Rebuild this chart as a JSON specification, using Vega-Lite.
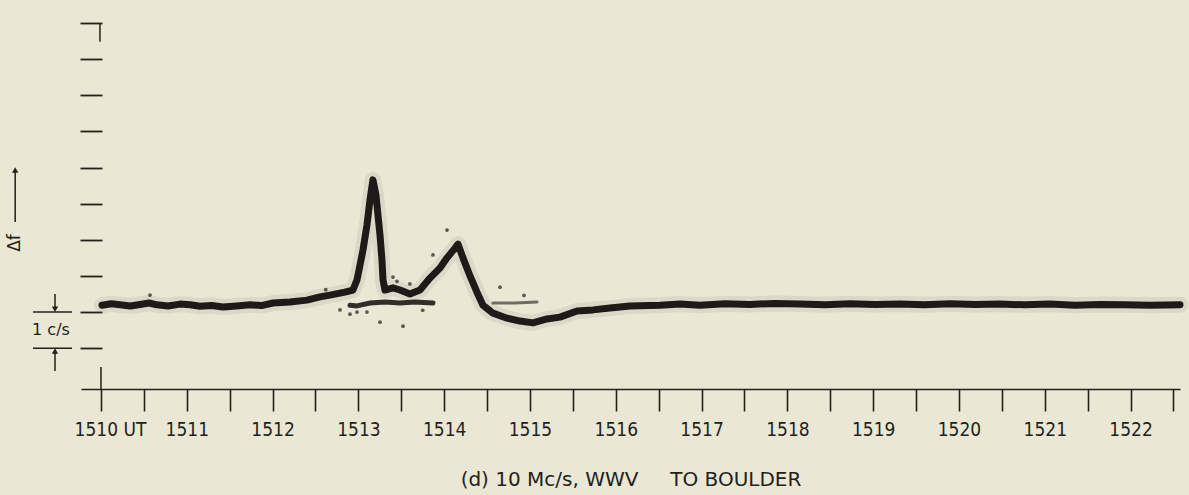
{
  "$schema": "https://vega.github.io/schema/vega-lite/v6.json",
  "width": 1099,
  "height": 384,
  "autosize": {"type": "none"},
  "padding": {"left": 81, "top": 5, "right": 9, "bottom": 106},
  "background": "#ebe7d5",
  "config": {"view": {"stroke": null}},
  "datasets": {
    "trace": [
      {"t": 0.012, "v": 0.19, "part": "main"}, {"t": 0.12, "v": 0.23, "part": "main"}, {"t": 0.221, "v": 0.2, "part": "main"},
      {"t": 0.34, "v": 0.17, "part": "main"}, {"t": 0.455, "v": 0.21, "part": "main"}, {"t": 0.56, "v": 0.25, "part": "main"},
      {"t": 0.653, "v": 0.2, "part": "main"}, {"t": 0.78, "v": 0.17, "part": "main"}, {"t": 0.921, "v": 0.22, "part": "main"},
      {"t": 1.04, "v": 0.2, "part": "main"}, {"t": 1.154, "v": 0.16, "part": "main"}, {"t": 1.29, "v": 0.18, "part": "main"},
      {"t": 1.422, "v": 0.14, "part": "main"}, {"t": 1.58, "v": 0.17, "part": "main"}, {"t": 1.737, "v": 0.2, "part": "main"},
      {"t": 1.87, "v": 0.18, "part": "main"}, {"t": 2.005, "v": 0.25, "part": "main"}, {"t": 2.203, "v": 0.28, "part": "main"},
      {"t": 2.401, "v": 0.33, "part": "main"}, {"t": 2.552, "v": 0.42, "part": "main"}, {"t": 2.669, "v": 0.47, "part": "main"},
      {"t": 2.844, "v": 0.55, "part": "main"}, {"t": 2.937, "v": 0.61, "part": "main"}, {"t": 2.984, "v": 0.89, "part": "main"},
      {"t": 3.019, "v": 1.3, "part": "main"}, {"t": 3.054, "v": 1.72, "part": "main"}, {"t": 3.1, "v": 2.41, "part": "main"},
      {"t": 3.135, "v": 3.1, "part": "main"}, {"t": 3.17, "v": 3.66, "part": "main"}, {"t": 3.205, "v": 3.24, "part": "main"},
      {"t": 3.228, "v": 2.69, "part": "main"}, {"t": 3.252, "v": 2.13, "part": "main"}, {"t": 3.275, "v": 1.44, "part": "main"},
      {"t": 3.287, "v": 0.89, "part": "main"}, {"t": 3.31, "v": 0.61, "part": "main"}, {"t": 3.403, "v": 0.67, "part": "main"},
      {"t": 3.485, "v": 0.61, "part": "main"}, {"t": 3.601, "v": 0.5, "part": "main"}, {"t": 3.718, "v": 0.61, "part": "main"},
      {"t": 3.834, "v": 0.94, "part": "main"}, {"t": 3.951, "v": 1.22, "part": "main"}, {"t": 4.033, "v": 1.5, "part": "main"},
      {"t": 4.126, "v": 1.77, "part": "main"}, {"t": 4.161, "v": 1.88, "part": "main"}, {"t": 4.219, "v": 1.5, "part": "main"},
      {"t": 4.301, "v": 1.0, "part": "main"}, {"t": 4.382, "v": 0.55, "part": "main"}, {"t": 4.452, "v": 0.19, "part": "main"},
      {"t": 4.569, "v": -0.03, "part": "main"}, {"t": 4.732, "v": -0.17, "part": "main"}, {"t": 4.883, "v": -0.25, "part": "main"},
      {"t": 5.035, "v": -0.3, "part": "main"}, {"t": 5.198, "v": -0.19, "part": "main"}, {"t": 5.35, "v": -0.14, "part": "main"},
      {"t": 5.548, "v": 0.03, "part": "main"}, {"t": 5.734, "v": 0.06, "part": "main"}, {"t": 5.932, "v": 0.11, "part": "main"},
      {"t": 6.166, "v": 0.17, "part": "main"}, {"t": 6.515, "v": 0.19, "part": "main"}, {"t": 6.75, "v": 0.22, "part": "main"},
      {"t": 6.981, "v": 0.19, "part": "main"}, {"t": 7.27, "v": 0.23, "part": "main"}, {"t": 7.564, "v": 0.21, "part": "main"},
      {"t": 7.85, "v": 0.24, "part": "main"}, {"t": 8.147, "v": 0.22, "part": "main"}, {"t": 8.44, "v": 0.2, "part": "main"},
      {"t": 8.73, "v": 0.23, "part": "main"}, {"t": 9.02, "v": 0.21, "part": "main"}, {"t": 9.312, "v": 0.22, "part": "main"},
      {"t": 9.6, "v": 0.2, "part": "main"}, {"t": 9.895, "v": 0.23, "part": "main"}, {"t": 10.19, "v": 0.21, "part": "main"},
      {"t": 10.478, "v": 0.22, "part": "main"}, {"t": 10.77, "v": 0.2, "part": "main"}, {"t": 11.061, "v": 0.22, "part": "main"},
      {"t": 11.35, "v": 0.19, "part": "main"}, {"t": 11.643, "v": 0.21, "part": "main"}, {"t": 11.93, "v": 0.2, "part": "main"},
      {"t": 12.226, "v": 0.19, "part": "main"}, {"t": 12.576, "v": 0.2, "part": "main"},
      {"t": 2.902, "v": 0.19, "part": "branch"}, {"t": 2.984, "v": 0.17, "part": "branch"}, {"t": 3.135, "v": 0.25, "part": "branch"},
      {"t": 3.31, "v": 0.28, "part": "branch"}, {"t": 3.485, "v": 0.25, "part": "branch"}, {"t": 3.66, "v": 0.28, "part": "branch"},
      {"t": 3.869, "v": 0.25, "part": "branch"},
      {"t": 4.569, "v": 0.25, "part": "faint"}, {"t": 4.825, "v": 0.25, "part": "faint"}, {"t": 5.082, "v": 0.28, "part": "faint"}
    ],
    "specks": [
      {"t": 0.571, "v": 0.47}, {"t": 2.786, "v": 0.06}, {"t": 2.902, "v": -0.06}, {"t": 3.403, "v": 0.97},
      {"t": 3.869, "v": 1.58}, {"t": 4.033, "v": 2.27}, {"t": 4.65, "v": 0.69}, {"t": 3.252, "v": -0.28},
      {"t": 3.52, "v": -0.39}, {"t": 2.984, "v": 0.0}, {"t": 3.45, "v": 0.85}, {"t": 3.6, "v": 0.78},
      {"t": 3.75, "v": 0.05}, {"t": 3.1, "v": 0.0}, {"t": 2.62, "v": 0.62}, {"t": 4.93, "v": 0.46}
    ],
    "guides": [
      {"t": -0.012, "t2": -0.012, "v": 8.0, "v2": 7.48},
      {"t": 0.0, "t2": 0.0, "v": -2.13, "v2": -1.52},
      {"t": -0.793, "t2": -0.338, "v": 0.0, "v2": 0.0},
      {"t": -0.793, "t2": -0.338, "v": -1.0, "v2": -1.0},
      {"t": -0.536, "t2": -0.536, "v": 0.5, "v2": 0.1},
      {"t": -0.536, "t2": -0.536, "v": -1.63, "v2": -1.1},
      {"t": -1.0, "t2": -1.0, "v": 2.49, "v2": 3.9}
    ],
    "heads": [
      {"t": -0.536, "v": 0.08, "dir": "down"},
      {"t": -0.536, "v": -1.08, "dir": "up"},
      {"t": -1.0, "v": 3.93, "dir": "up"}
    ],
    "notes": [
      {"t": -0.583, "v": -0.5, "label": "1 c/s"}
    ],
    "ylabel": [
      {"t": -1.0, "v": 1.91, "label": "Δf"}
    ]
  },
  "encoding": {
    "x": {
      "field": "t",
      "type": "quantitative",
      "scale": {"domain": [-0.233, 12.576], "nice": false, "zero": false},
      "axis": {
        "values": [0, 0.5, 1, 1.5, 2, 2.5, 3, 3.5, 4, 4.5, 5, 5.5, 6, 6.5, 7, 7.5, 8, 8.5, 9, 9.5, 10, 10.5, 11, 11.5, 12, 12.5],
        "labelExpr": "datum.value % 1 === 0 ? (datum.value === 0 ? '1510 UT' : toString(1510 + datum.value)) : ''",
        "labelOffset": {"condition": {"test": "datum.value === 0", "value": 9}, "value": 0},
        "labelOverlap": false,
        "labelFlush": false,
        "labelFont": "DejaVu Sans Condensed, Liberation Sans Narrow, sans-serif",
        "labelFontSize": 19,
        "labelColor": "#231f1c",
        "labelPadding": 9,
        "tickSize": 22,
        "tickWidth": 1.6,
        "tickColor": "#231f1c",
        "domainColor": "#231f1c",
        "domainWidth": 1.4,
        "grid": false,
        "title": "(d) 10 Mc/s, WWV\u00a0\u00a0\u00a0\u00a0\u00a0TO BOULDER",
        "titleFont": "DejaVu Sans",
        "titleFontSize": 20,
        "titleFontWeight": "normal",
        "titleColor": "#231f1c",
        "titlePadding": 30
      }
    },
    "y": {
      "field": "v",
      "type": "quantitative",
      "scale": {"domain": [-2.13, 8.5], "nice": false, "zero": false},
      "axis": {
        "values": [-1, 0, 1, 2, 3, 4, 5, 6, 7, 8],
        "labels": false,
        "domain": false,
        "grid": false,
        "offset": -21,
        "tickSize": 22,
        "tickWidth": 1.8,
        "tickColor": "#231f1c",
        "title": null
      }
    }
  },
  "layer": [
    {
      "data": {"name": "guides"},
      "mark": {"type": "rule", "color": "#231f1c", "strokeWidth": 1.5},
      "encoding": {"x2": {"field": "t2"}, "y2": {"field": "v2"}}
    },
    {
      "data": {"name": "heads"},
      "mark": {"type": "point", "filled": true, "color": "#231f1c", "opacity": 1, "size": 40},
      "encoding": {
        "shape": {"field": "dir", "type": "nominal", "scale": {"domain": ["up", "down"], "range": ["triangle-up", "triangle-down"]}, "legend": null}
      }
    },
    {
      "data": {"name": "trace"},
      "transform": [{"filter": "datum.part === 'main'"}],
      "mark": {"type": "line", "color": "#6e6a62", "strokeWidth": 16, "opacity": 0.12, "strokeCap": "round", "strokeJoin": "round"},
      "encoding": {"order": {"field": "t"}}
    },
    {
      "data": {"name": "trace"},
      "transform": [{"filter": "datum.part !== 'main'"}],
      "mark": {"type": "line", "color": "#1e1a18", "strokeCap": "round", "strokeJoin": "round"},
      "encoding": {
        "detail": {"field": "part", "type": "nominal"},
        "order": {"field": "t"},
        "strokeWidth": {"field": "part", "type": "nominal", "scale": {"domain": ["branch", "faint"], "range": [5, 3]}, "legend": null},
        "opacity": {"field": "part", "type": "nominal", "scale": {"domain": ["branch", "faint"], "range": [0.9, 0.6]}, "legend": null}
      }
    },
    {
      "data": {"name": "trace"},
      "transform": [{"filter": "datum.part === 'main'"}],
      "mark": {"type": "line", "color": "#1e1a18", "strokeWidth": 7, "strokeCap": "round", "strokeJoin": "round"},
      "encoding": {"order": {"field": "t"}}
    },
    {
      "data": {"name": "specks"},
      "mark": {"type": "point", "filled": true, "color": "#2a2522", "opacity": 0.75, "size": 14}
    },
    {
      "data": {"name": "notes"},
      "mark": {"type": "text", "font": "DejaVu Sans", "fontSize": 16, "color": "#231f1c", "align": "center", "baseline": "middle"},
      "encoding": {"text": {"field": "label"}}
    },
    {
      "data": {"name": "ylabel"},
      "mark": {"type": "text", "font": "DejaVu Sans", "fontSize": 17, "color": "#231f1c", "align": "center", "baseline": "middle", "angle": 270},
      "encoding": {"text": {"field": "label"}}
    }
  ]
}
